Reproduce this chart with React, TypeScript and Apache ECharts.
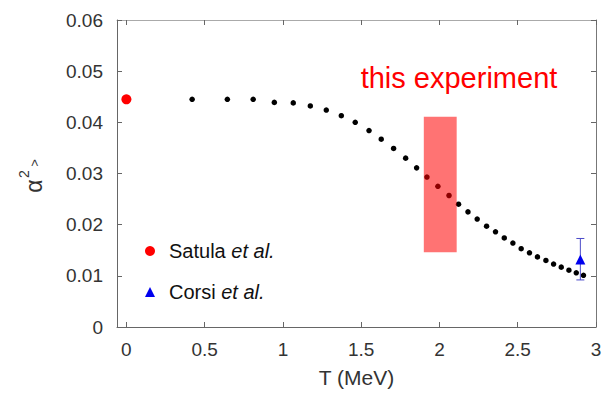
import React, { useEffect, useRef } from 'react';
import * as echarts from 'echarts';

// Tick values
const xTickValues = [0, 0.5, 1, 1.5, 2, 2.5, 3];

// Calculated curve (black dots)
const calcT = [0.42, 0.645, 0.81, 0.945, 1.066, 1.175, 1.277, 1.373, 1.462, 1.55, 1.628, 1.707, 1.784, 1.854, 1.92, 1.99, 2.061, 2.122, 2.182, 2.241, 2.301, 2.358, 2.414, 2.469, 2.522, 2.575, 2.626, 2.68, 2.729, 2.778, 2.827, 2.874, 2.92];
const calcAlpha = [0.0445, 0.0445, 0.0445, 0.0439, 0.0438, 0.0432, 0.0424, 0.0413, 0.04, 0.0384, 0.0367, 0.0349, 0.033, 0.0311, 0.0293, 0.0275, 0.0257, 0.024, 0.0225, 0.0211, 0.0197, 0.0186, 0.0174, 0.0164, 0.0153, 0.0145, 0.0137, 0.013, 0.0123, 0.0117, 0.0111, 0.0106, 0.0101];

// Satula et al. point
const satulaT = [0];
const satulaAlpha = [0.0445];

// Corsi et al. point with error bar
const corsiT = [2.9];
const corsiAlpha = [0.0132];
const corsiLow = [0.0092];
const corsiHigh = [0.0173];

// "this experiment" band: [T start, T end, alpha low, alpha high]
const bandTStart = [1.9];
const bandTEnd = [2.11];
const bandLow = [0.0146];
const bandHigh = [0.0411];

const FONT = 'Liberation Sans, Arial, sans-serif';

export default function App() {
  const ref = useRef<HTMLDivElement>(null);

  useEffect(() => {
    if (!ref.current) return;
    const chart = echarts.init(ref.current, undefined, { renderer: 'svg' });

    const calcData = calcT.map((t, i) => [t, calcAlpha[i]]);
    const satulaData = satulaT.map((t, i) => [t, satulaAlpha[i]]);
    const corsiData = corsiT.map((t, i) => [t, corsiAlpha[i]]);
    const errData = corsiT.map((t, i) => [t, corsiLow[i], corsiHigh[i]]);
    const bandData = bandTStart.map((t, i) => [t, bandTEnd[i], bandLow[i], bandHigh[i]]);

    const axisColor = '#666';

    chart.setOption({
      animation: false,
      backgroundColor: '#fff',
      grid: { left: 117, right: 9, top: 20, bottom: 68, containLabel: false, outerBoundsMode: 'none' },
      xAxis: [
        {
          type: 'value',
          position: 'bottom',
          min: -0.06,
          max: 3,
          splitLine: { show: false },
          axisLine: { show: true, onZero: false, lineStyle: { color: axisColor, width: 1 } },
          axisTick: { show: true, inside: true, length: 5, customValues: xTickValues, lineStyle: { color: axisColor } },
          axisLabel: { customValues: xTickValues, color: '#333', fontSize: 19, fontFamily: FONT, margin: 13, formatter: (v: number) => String(v) },
          name: 'T (MeV)',
          nameLocation: 'middle',
          nameGap: 40,
          nameTextStyle: { color: '#333', fontSize: 21, fontFamily: FONT },
        },
        {
          type: 'value',
          position: 'top',
          min: -0.06,
          max: 3,
          splitLine: { show: false },
          axisLine: { show: true, onZero: false, lineStyle: { color: '#aaa', width: 1 } },
          axisTick: { show: true, inside: true, length: 5, customValues: xTickValues, lineStyle: { color: axisColor } },
          axisLabel: { show: false },
        },
      ],
      yAxis: [
        {
          type: 'value',
          position: 'left',
          min: 0,
          max: 0.06,
          interval: 0.01,
          splitLine: { show: false },
          axisLine: { show: true, onZero: false, lineStyle: { color: axisColor, width: 1 } },
          axisTick: { show: true, inside: true, length: 5, lineStyle: { color: axisColor } },
          axisLabel: { color: '#333', fontSize: 19, fontFamily: FONT, margin: 14 },
        },
        {
          type: 'value',
          position: 'right',
          min: 0,
          max: 0.06,
          interval: 0.01,
          splitLine: { show: false },
          axisLine: { show: true, onZero: false, lineStyle: { color: '#777', width: 1 } },
          axisTick: { show: true, inside: true, length: 5, lineStyle: { color: axisColor } },
          axisLabel: { show: false },
        },
      ],
      legend: {
        data: [
          { name: 'Satula et al.', icon: 'circle' },
          { name: 'Corsi et al.', icon: 'triangle' },
        ],
        orient: 'vertical',
        left: 140,
        top: 236,
        itemWidth: 10,
        itemHeight: 10,
        itemGap: 21,
        selectedMode: false,
        formatter: (n: string) => `{r|${n.replace(' et al.', '')} }{i|et al.}`,
        textStyle: {
          color: '#111',
          fontSize: 20,
          fontFamily: FONT,
          padding: [0, 0, 0, 9],
          rich: {
            r: { fontSize: 20, fontFamily: FONT, color: '#111' },
            i: { fontSize: 20, fontFamily: FONT, color: '#111', fontStyle: 'italic' },
          },
        },
      },
      graphic: [
        {
          type: 'text',
          x: 459,
          y: 78,
          style: {
            text: 'this experiment',
            fill: '#ff0000',
            font: `29px ${FONT}`,
            textAlign: 'center',
            textVerticalAlign: 'middle',
          },
        },
        {
          type: 'group',
          x: 34,
          y: 175,
          rotation: Math.PI / 2,
          children: [
            { type: 'text', x: -11, y: 0, style: { text: 'α', fill: '#333', font: `23px ${FONT}`, textAlign: 'center', textVerticalAlign: 'middle' } },
            { type: 'text', x: 1, y: -10, style: { text: '2', fill: '#333', font: `14px ${FONT}`, textAlign: 'center', textVerticalAlign: 'middle' } },
            { type: 'text', x: 12, y: 0, style: { text: '>', fill: '#333', font: `13px ${FONT}`, textAlign: 'center', textVerticalAlign: 'middle' } },
          ],
        },
      ],
      series: [
        {
          name: 'calc',
          type: 'scatter',
          data: calcData,
          symbol: 'circle',
          symbolSize: 5.5,
          itemStyle: { color: '#000', opacity: 1 },
          z: 2,
        },
        {
          name: 'Satula et al.',
          type: 'scatter',
          data: satulaData,
          symbol: 'circle',
          symbolSize: 10,
          itemStyle: { color: '#ff0000', opacity: 1 },
          z: 3,
        },
        {
          name: 'band',
          type: 'custom',
          data: bandData,
          encode: { x: [0, 1], y: [2, 3] },
          z: 4,
          renderItem: (params: any, api: any) => {
            const p1 = api.coord([api.value(0), api.value(3)]);
            const p2 = api.coord([api.value(1), api.value(2)]);
            return {
              type: 'rect',
              shape: { x: p1[0], y: p1[1], width: p2[0] - p1[0], height: p2[1] - p1[1] },
              style: { fill: 'rgba(255,0,0,0.55)' },
            };
          },
        },
        {
          name: 'err',
          type: 'custom',
          data: errData,
          encode: { x: 0, y: [1, 2] },
          z: 5,
          renderItem: (params: any, api: any) => {
            const top = api.coord([api.value(0), api.value(2)]);
            const bot = api.coord([api.value(0), api.value(1)]);
            const hw = 4;
            const st = { stroke: '#4a4ac8', lineWidth: 1 };
            return {
              type: 'group',
              children: [
                { type: 'line', shape: { x1: top[0], y1: top[1], x2: bot[0], y2: bot[1] }, style: st },
                { type: 'line', shape: { x1: top[0] - hw, y1: top[1], x2: top[0] + hw, y2: top[1] }, style: st },
                { type: 'line', shape: { x1: bot[0] - hw, y1: bot[1], x2: bot[0] + hw, y2: bot[1] }, style: st },
              ],
            };
          },
        },
        {
          name: 'Corsi et al.',
          type: 'scatter',
          data: corsiData,
          symbol: 'triangle',
          symbolSize: 10,
          itemStyle: { color: '#0000ee', opacity: 1 },
          z: 6,
        },
      ],
    });

    return () => chart.dispose();
  }, []);

  return <div ref={ref} style={{ width: 605, height: 395, position: 'absolute', left: 0, top: 0 }} />;
}
